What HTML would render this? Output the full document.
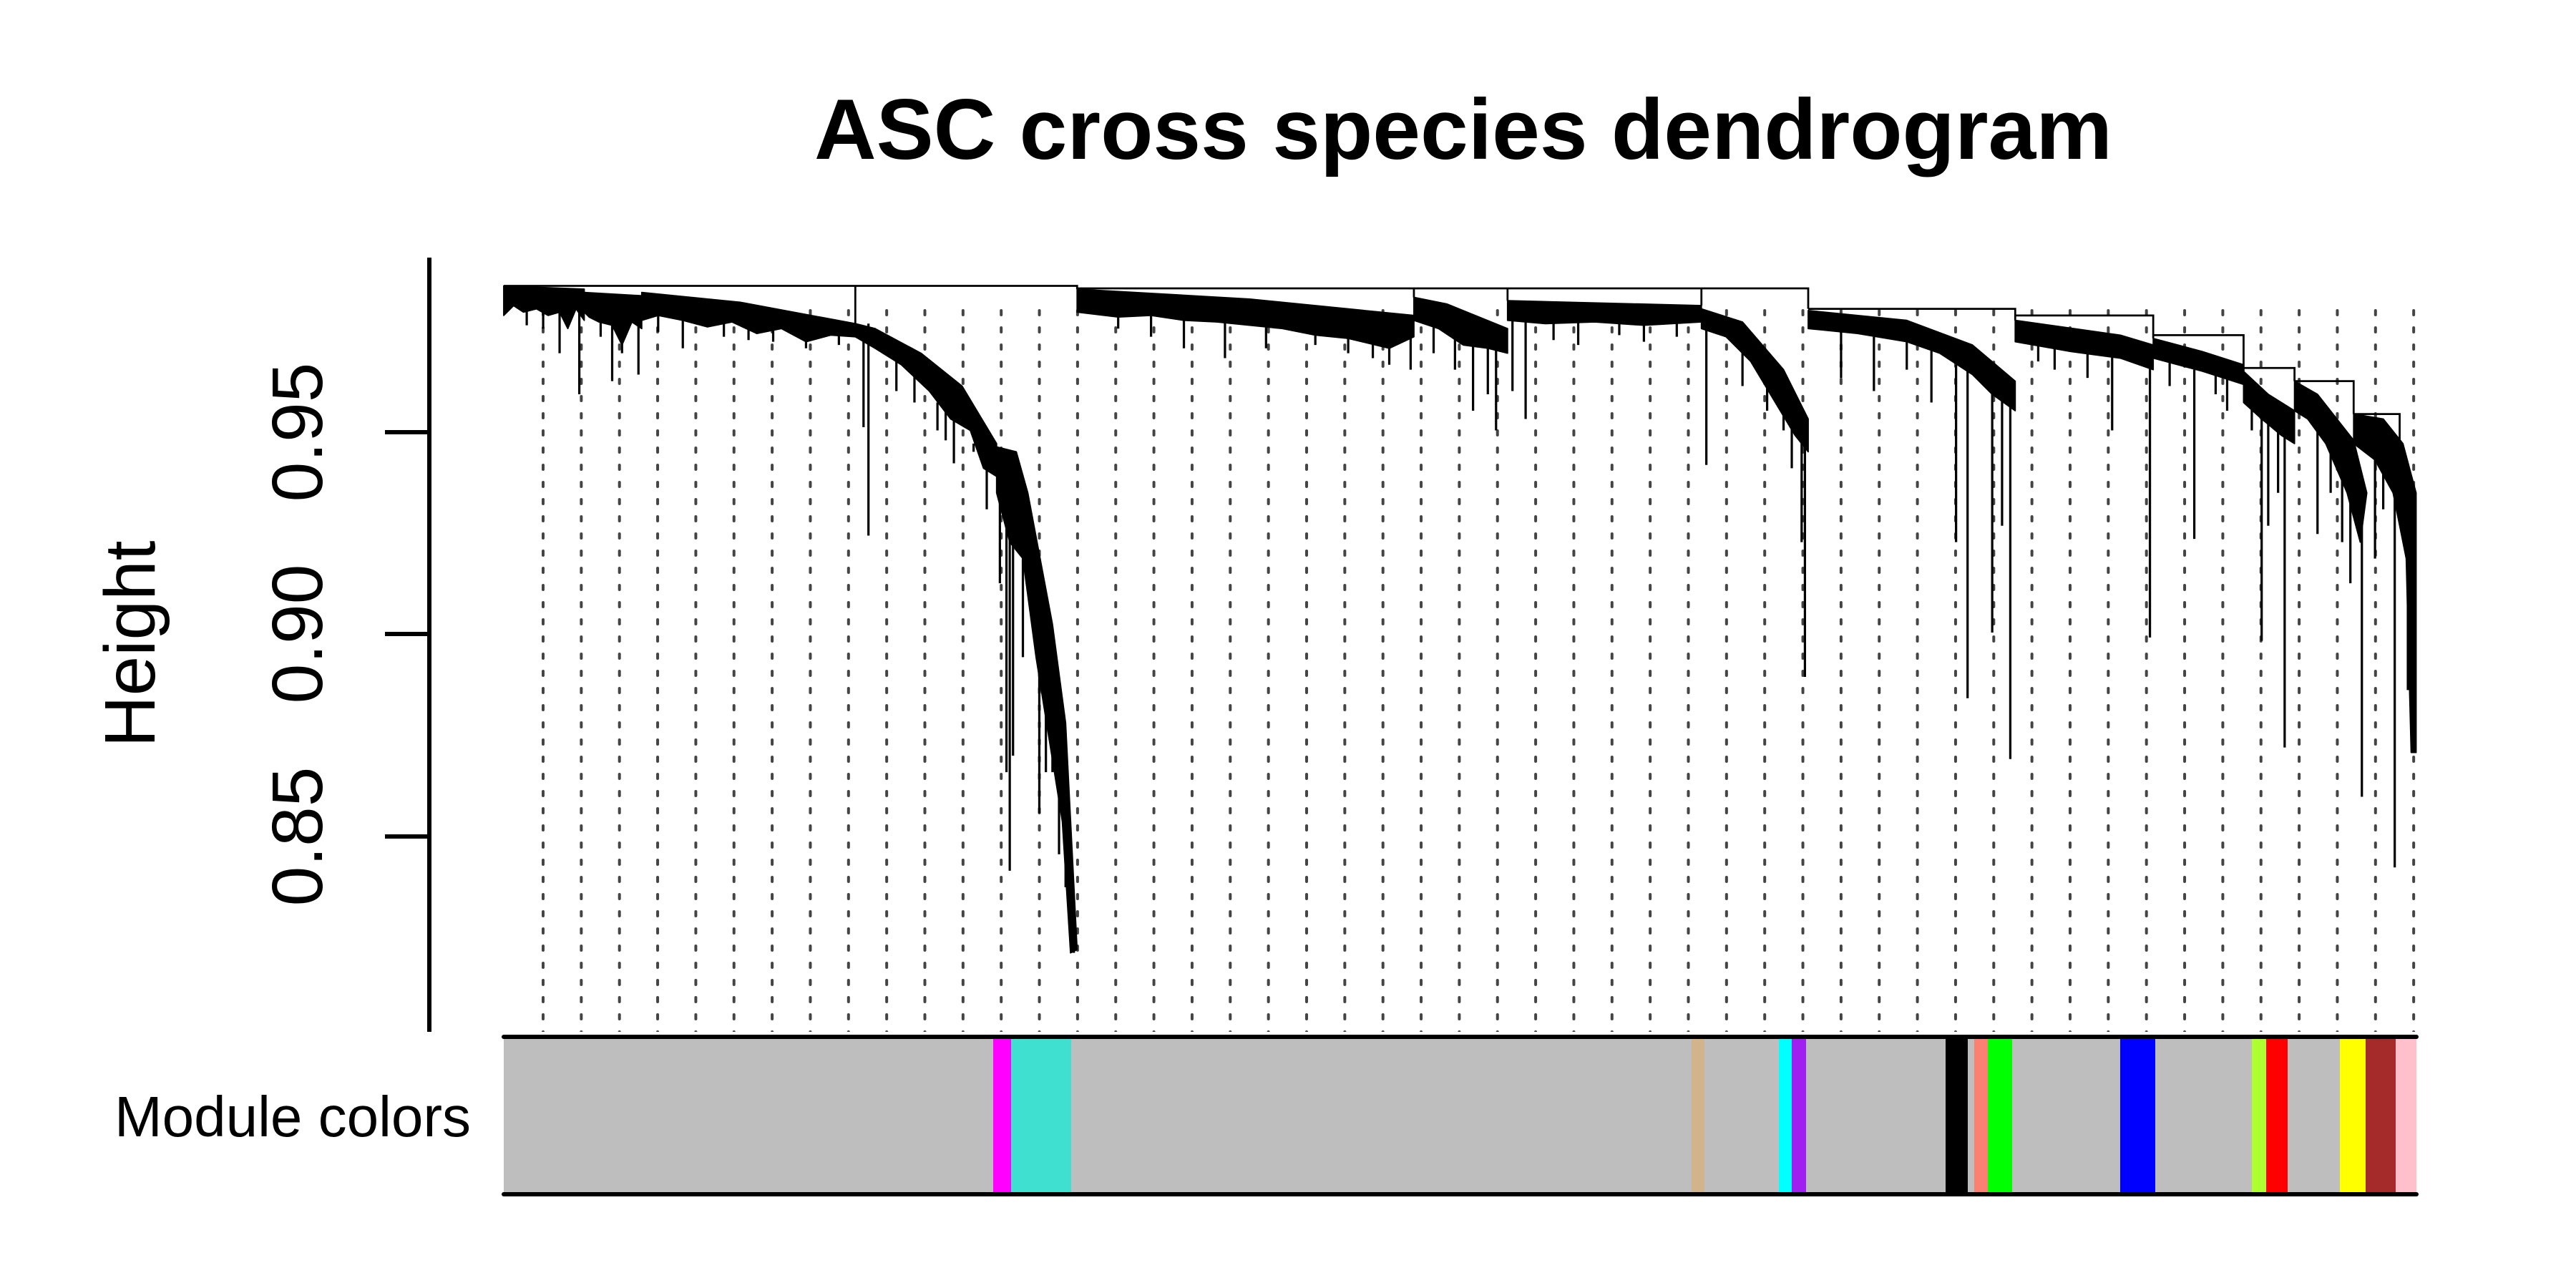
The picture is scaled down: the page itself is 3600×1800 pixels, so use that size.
<!DOCTYPE html>
<html><head><meta charset="utf-8"><style>
html,body{margin:0;padding:0;background:#fff;}
svg{display:block;}
text{font-family:"Liberation Sans",Arial,sans-serif;fill:#000;}
</style></head><body>
<svg width="3600" height="1800" viewBox="0 0 3600 1800" xmlns="http://www.w3.org/2000/svg">
<defs>
<pattern id="dp" patternUnits="userSpaceOnUse" x="757" y="0" width="53.35" height="24">
<rect x="0" y="0" width="4" height="10" rx="2" fill="#444"/>
</pattern>
</defs>
<rect width="3600" height="1800" fill="#fff"/>
<text x="2045" y="222" font-size="120" font-weight="bold" text-anchor="middle">ASC cross species dendrogram</text>
<rect x="740" y="430" width="2640" height="1012" fill="url(#dp)"/>
<g transform="translate(1.4,0) scale(2.296)">
<g fill="#000" stroke="#000" stroke-width="0.8" stroke-linejoin="round">
<polygon points="306,174 355,176 355,195 350,188 345,200 340,190 333,192 326,188 318,190 312,186 306,192"/>
<polygon points="355,178 390,180 390,200 384,196 378,210 372,198 364,196 358,193 355,190"/>
<polygon points="390,178 450,184 520,197 520,205 505,204 490,208 475,200 460,203 445,196 430,199 415,195 400,192 390,195"/>
<polygon points="520,197 532,200 532,212 520,205"/>
<polygon points="532,200 560,215 585,235 606,270 606,290 598,285 590,262 578,255 565,238 548,222 532,212"/>
<polygon points="606,272 618,275 625,300 640,380 648,440 655,578 651,580 646,500 638,450 630,400 622,340 614,330 606,300"/>
<polygon points="655,176 760,182 860,192 860,205 845,212 820,206 800,204 780,200 760,198 740,196 720,195 700,192 680,193 655,190"/>
<polygon points="860,181 880,185 917,200 917,215 905,212 890,210 875,200 860,195"/>
<polygon points="917,183 1035,186 1035,196 1000,198 970,196 940,197 917,195"/>
<polygon points="1035,188 1060,196 1085,225 1100,255 1100,275 1092,265 1080,245 1065,220 1050,205 1035,200"/>
<polygon points="1100,189 1160,195 1200,210 1226,232 1226,250 1212,240 1200,228 1180,215 1160,208 1130,203 1100,200"/>
<polygon points="1226,195 1290,204 1310,210 1310,225 1290,218 1260,214 1226,208"/>
<polygon points="1310,206 1340,214 1365,222 1365,234 1340,226 1310,218"/>
<polygon points="1365,226 1380,240 1396,250 1396,270 1388,265 1376,255 1365,245"/>
<polygon points="1396,232 1410,240 1432,268 1440,300 1436,330 1428,300 1415,270 1404,255 1396,250"/>
<polygon points="1432,252 1450,255 1462,270 1470,300 1470,458 1467,458 1464,340 1456,300 1445,280 1432,270"/>
</g>
<path fill="none" stroke="#000" stroke-width="1.4" d="
M330 190V200 M352 190V240 M340 190V215 M320 188V198 M372 195V232 M388 195V228 M378 200V215 M365 195V205
M415 195V212 M440 196V205 M470 200V208 M400 192V202 M455 200V207 M490 205V212 M510 203V210
M528 197V326 M525 200V260 M520 197V205
M545 220V238 M570 245V262 M580 250V282 M592 270V275 M600 285V310 M556 228V245 M575 245V268
M608 290V355 M612 300V470 M614 320V530 M616 330V460 M622 340V400 M632 400V495 M636 420V470 M640 430V470 M644 460V520 M648 470V540 M653 560V580
M680 192V200 M700 192V205 M720 195V212 M745 196V218 M770 198V212 M800 204V210 M820 205V215 M845 210V222 M858 205V225 M835 208V218
M872 198V215 M896 205V250 M910 210V262 M905 210V240 M885 205V225
M920 195V238 M928 195V255 M960 196V210 M1000 198V208 M945 197V207 M985 196V204 M1020 196V205
M1038 200V283 M1060 210V235 M1090 260V285 M1098 270V412 M1096 260V330 M1075 235V250 M1085 245V262
M1120 200V230 M1140 205V238 M1175 213V245 M1190 222V330 M1197 226V425 M1212 238V385 M1218 240V320 M1223 245V462 M1160 207V225
M1250 212V225 M1285 217V262 M1308 222V388 M1270 215V230 M1240 210V220
M1335 225V328 M1355 230V250 M1348 228V240 M1320 218V235
M1376 255V390 M1380 258V320 M1390 266V455 M1386 262V300 M1370 245V262
M1410 255V325 M1425 285V330 M1437 310V485 M1430 300V355 M1418 275V300
M1445 278V340 M1457 300V528 M1465 340V420 M1469 300V458 M1450 285V310"/>
<path fill="none" stroke="#000" stroke-width="1.2" d="M306 174H655V176 M520 174V197 M655 175.5H1100V188 M860 175.5V181 M917 175.5V183 M1035 175.5V186 M1100 188H1226V195 M1226 192H1310V206 M1310 204H1365V226 M1365 224H1396V232 M1396 232H1432V252 M1432 252H1460V300"/>
</g>
<g stroke="#000" stroke-width="6">
<line x1="600" y1="360" x2="600" y2="1442"/>
<line x1="538" y1="604" x2="600" y2="604"/>
<line x1="538" y1="886" x2="600" y2="886"/>
<line x1="538" y1="1169" x2="600" y2="1169"/>
</g>
<g font-size="100" text-anchor="middle">
<text transform="translate(450,604) rotate(-90)">0.95</text>
<text transform="translate(450,886) rotate(-90)">0.90</text>
<text transform="translate(450,1169) rotate(-90)">0.85</text>
<text transform="translate(216,900) rotate(-90)">Height</text>
</g>
<text x="658" y="1588" font-size="80" text-anchor="end">Module colors</text>
<rect x="704" y="1449" width="2673" height="220" fill="#BEBEBE"/>
<rect x="1388" y="1449" width="25" height="220" fill="#FF00FF"/>
<rect x="1413" y="1449" width="84" height="220" fill="#40E0D0"/>
<rect x="2364" y="1449" width="18" height="220" fill="#D2B48C"/>
<rect x="2486" y="1449" width="18" height="220" fill="#00FFFF"/>
<rect x="2504" y="1449" width="20" height="220" fill="#A020F0"/>
<rect x="2719" y="1449" width="31" height="220" fill="#000"/>
<rect x="2759" y="1449" width="19" height="220" fill="#FA8072"/>
<rect x="2778" y="1449" width="34" height="220" fill="#00FF00"/>
<rect x="2963" y="1449" width="49" height="220" fill="#0000FF"/>
<rect x="3147" y="1449" width="20" height="220" fill="#ADFF2F"/>
<rect x="3167" y="1449" width="30" height="220" fill="#FF0000"/>
<rect x="3270" y="1449" width="36" height="220" fill="#FFFF00"/>
<rect x="3306" y="1449" width="42" height="220" fill="#A52A2A"/>
<rect x="3348" y="1449" width="29" height="220" fill="#FFC0CB"/>
<g stroke="#000" stroke-width="6" stroke-linecap="round">
<line x1="704" y1="1449" x2="3377" y2="1449"/>
<line x1="704" y1="1669" x2="3377" y2="1669"/>
</g>
</svg>
</body></html>
